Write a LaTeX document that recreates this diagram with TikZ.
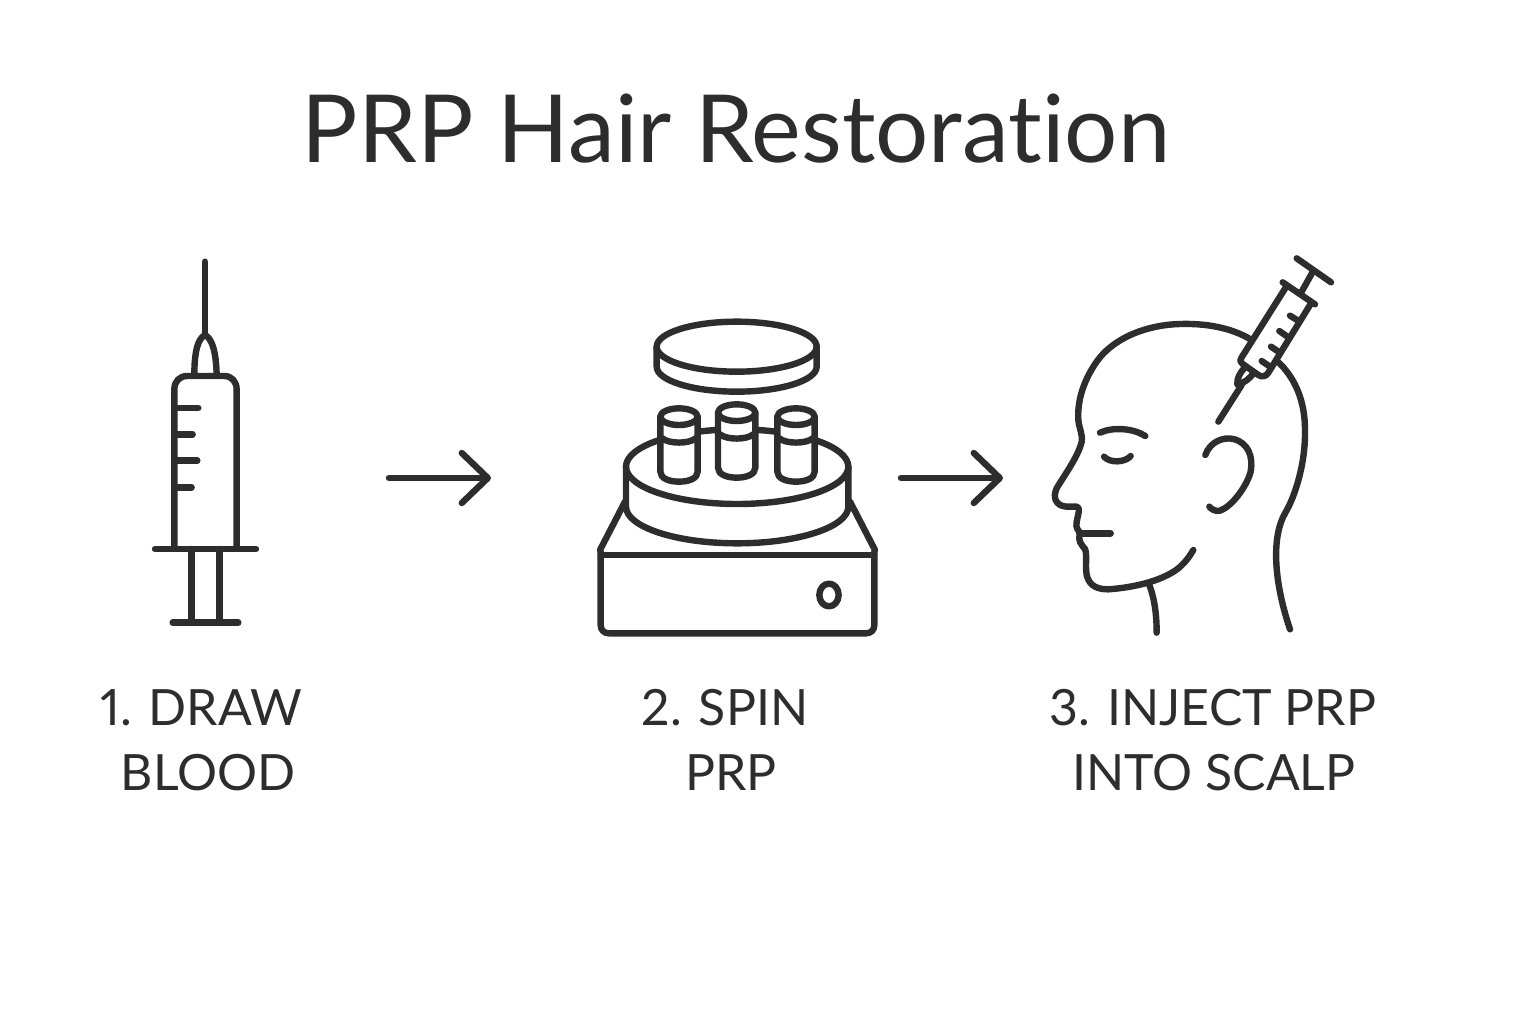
\documentclass[tikz,border=0pt]{standalone}
\usepackage{fontspec}
\setmainfont{Lato}[Ligatures={NoCommon,NoRequired,NoContextual},Numbers=Proportional]
\usetikzlibrary{arrows.meta}
\definecolor{ink}{HTML}{2D2D2D}
\tikzset{
  ln/.style={draw=ink,line width=6.4pt,line cap=round,line join=round},
  zm/.style={x=0.33333pt,y=-0.33333pt},
  lbl/.style={text=ink,font=\fontsize{50}{50}\selectfont,inner sep=0pt,anchor=base},
  flow/.style={ln,-{Straight Barb[length=26pt,width=50pt,line width=6.4pt,round]}}
}
\begin{document}
\begin{tikzpicture}[x=1pt,y=-1pt]
\useasboundingbox (0,0) rectangle (1536,1024);
\fill[white] (0,0) rectangle (1536,1024);
\node[text=ink,font=\fontsize{94}{94}\selectfont,inner sep=0pt,anchor=base] (title) at (736,163) {PRP Hair Restoration};
% syringe
\begin{scope}[shift={(130,250)},zm,ln]
\draw (225,35) -- (225,250);
\draw (193,375) .. controls (193,300) and (205,265) .. (225,255) .. controls (245,265) and (258,300) .. (260,375);
\draw (133,890) -- (133,418) .. controls (133,395) and (148,378) .. (172,378) -- (283,378) .. controls (305,378) and (320,395) .. (320,418) -- (320,890);
\draw (75,897) -- (378,897);
\draw (185,897) -- (185,1118);
\draw (268,897) -- (268,1118);
\draw (128,1118) -- (325,1118);
\draw (133,474) -- (205,474);
\draw (133,553) -- (188,553);
\draw (133,632) -- (202,632);
\draw (133,712) -- (185,712);
\end{scope}
% centrifuge
\begin{scope}[shift={(590,320)},zm,ln]
\draw (30,690) -- (105,545);
\draw (855,690) -- (780,545);
\draw (32,705) -- (853,705);
\draw (32,695) -- (32,915) .. controls (32,930) and (42,940) .. (57,940) -- (828,940) .. controls (843,940) and (853,930) .. (853,915) -- (853,695);
\draw (717,825) ellipse [x radius=29,y radius=34];
\draw (108,440) -- (108,560) arc [start angle=180,end angle=360,x radius=333.5,y radius=-110] -- (775,440);
\draw (441.5,440) ellipse [x radius=333.5,y radius=112];
\draw (200,80) -- (200,140) arc [start angle=180,end angle=360,x radius=240,y radius=-75] -- (680,80);
\draw (440,80) ellipse [x radius=240,y radius=75];
\foreach \cx/\cy in {267/290,440/278,618/290}{
  \path[fill=white] (\cx-56,\cy) -- (\cx-56,\cy+170) arc [start angle=180,end angle=360,x radius=56,y radius=-30] -- (\cx+56,\cy) -- cycle;
  \draw (\cx-56,\cy) -- (\cx-56,\cy+165) .. controls (\cx-56,\cy+185) and (\cx-30,\cy+195) .. (\cx,\cy+195) .. controls (\cx+30,\cy+195) and (\cx+56,\cy+185) .. (\cx+56,\cy+165) -- (\cx+56,\cy);
  \draw[fill=white] (\cx,\cy) ellipse [x radius=56,y radius=25];
  \draw (\cx-50,\cy+65) .. controls (\cx-30,\cy+82) and (\cx+30,\cy+82) .. (\cx+50,\cy+65);
}
\end{scope}
% head
\begin{scope}[shift={(1040,250)},zm,ln]
\draw (635,270) .. controls (570,230) and (490,220) .. (420,222) .. controls (310,225) and (215,270) .. (170,335) .. controls (125,400) and (112,460) .. (115,510) .. controls (117,535) and (128,550) .. (125,575) .. controls (115,620) and (70,680) .. (50,715) .. controls (38,740) and (45,768) .. (80,770) -- (110,770) .. controls (122,772) and (115,790) .. (110,815) .. controls (105,835) and (118,845) .. (122,850) .. controls (110,870) and (125,885) .. (135,897) .. controls (142,915) and (135,945) .. (140,975) .. controls (148,1010) and (175,1018) .. (205,1018) .. controls (290,1012) and (370,990) .. (415,955) .. controls (435,938) and (450,918) .. (460,900);
\draw (118,850) -- (212,850);
\draw (328,1005) .. controls (345,1050) and (350,1100) .. (350,1148);
\draw (708,330) .. controls (770,385) and (795,460) .. (795,540) .. controls (797,640) and (765,740) .. (735,790) .. controls (695,860) and (700,990) .. (750,1138);
\draw (180,548) .. controls (220,530) and (280,535) .. (316,558);
\draw (192,620) .. controls (210,640) and (255,638) .. (272,618);
\draw (496,615) .. controls (510,575) and (550,560) .. (580,567) .. controls (625,578) and (640,620) .. (632,665) .. controls (620,710) and (575,770) .. (540,782) .. controls (525,785) and (515,778) .. (508,770);
% small syringe
\draw (770,25) -- (873,97);
\draw (820,62) -- (785,125);
\draw (728,97) -- (825,163);
\draw (740,108) -- (605,322) .. controls (598,332) and (602,338) .. (608,342) -- (655,375) .. controls (665,382) and (678,380) .. (685,368) -- (810,165);
\draw (750,197) -- (776,213);
\draw (718,243) -- (745,262);
\draw (693,290) -- (720,308);
\draw (665,333) -- (690,350);
\draw (615,352) .. controls (600,368) and (590,385) .. (592,404) .. controls (612,400) and (630,385) .. (642,368);
\draw (605,405) -- (535,515);
\end{scope}
% arrows
\coordinate (a1s) at (389,478); \coordinate (a1e) at (491,478);
\coordinate (a2s) at (901,478); \coordinate (a2e) at (1003,478);
\draw[flow] (a1s) -- (a1e);
\draw[flow] (a2s) -- (a2e);
% labels
\node[lbl] (l1a) at (201,725) {1. DRAW};
\node[lbl] (l1b) at (208,790) {BLOOD};
\node[lbl] (l2a) at (725,725) {2. SPIN};
\node[lbl] (l2b) at (731,790) {PRP};
\node[lbl] (l3a) at (1213,725) {3. INJECT PRP};
\node[lbl] (l3b) at (1214,790) {INTO SCALP};
\end{tikzpicture}
\end{document}
